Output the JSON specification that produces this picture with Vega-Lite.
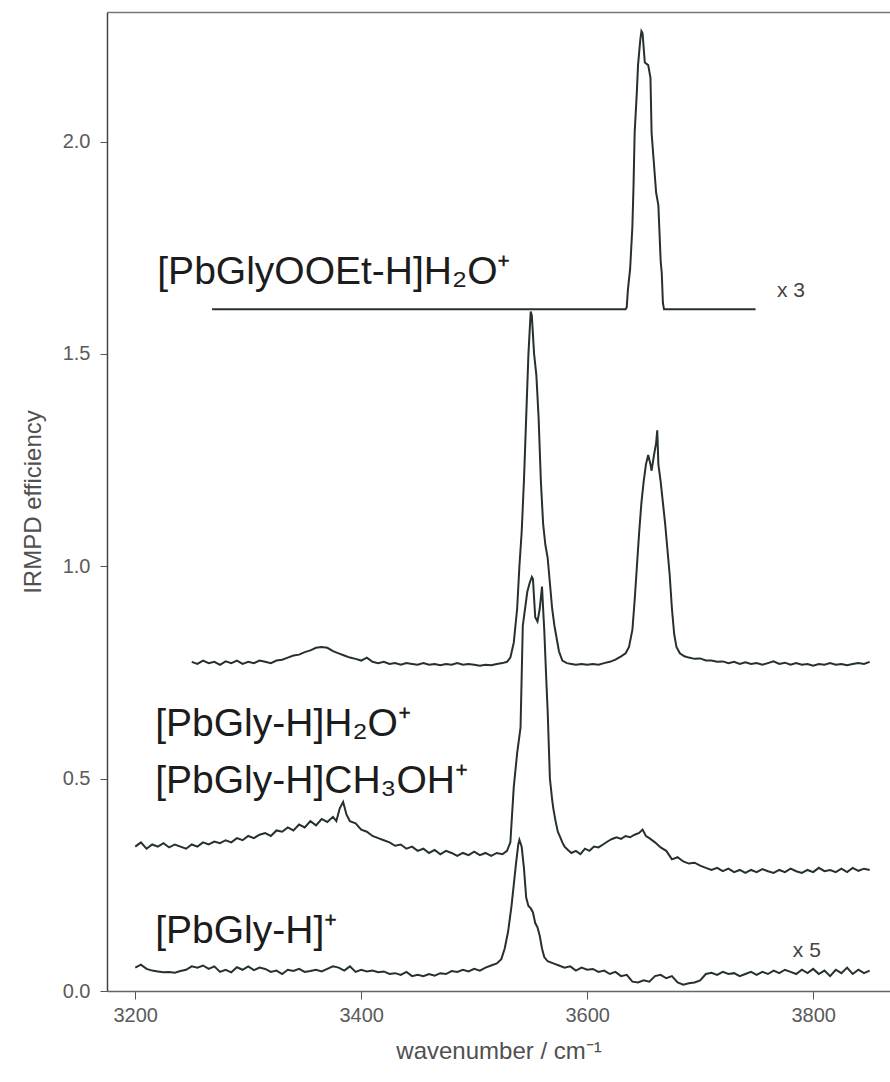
{
  "$schema": "https://vega.github.io/schema/vega-lite/v6.json",
  "width": 783,
  "height": 979,
  "autosize": "none",
  "padding": {"left": 107, "top": 12, "right": 0, "bottom": 91},
  "background": "white",
  "config": {"view": {"stroke": null}, "font": "Liberation Sans"},
  "datasets": {
    "spectra": [
      {"series":"PbGly-H+","wavenumber":3200,"efficiency":0.055},{"series":"PbGly-H+","wavenumber":3205,"efficiency":0.062},{"series":"PbGly-H+","wavenumber":3210,"efficiency":0.052},{"series":"PbGly-H+","wavenumber":3215,"efficiency":0.048},{"series":"PbGly-H+","wavenumber":3220,"efficiency":0.046},{"series":"PbGly-H+","wavenumber":3225,"efficiency":0.044},{"series":"PbGly-H+","wavenumber":3230,"efficiency":0.045},{"series":"PbGly-H+","wavenumber":3235,"efficiency":0.043},{"series":"PbGly-H+","wavenumber":3240,"efficiency":0.047},{"series":"PbGly-H+","wavenumber":3245,"efficiency":0.05},{"series":"PbGly-H+","wavenumber":3250,"efficiency":0.058},{"series":"PbGly-H+","wavenumber":3255,"efficiency":0.055},{"series":"PbGly-H+","wavenumber":3260,"efficiency":0.06},{"series":"PbGly-H+","wavenumber":3265,"efficiency":0.052},{"series":"PbGly-H+","wavenumber":3270,"efficiency":0.058},{"series":"PbGly-H+","wavenumber":3275,"efficiency":0.045},{"series":"PbGly-H+","wavenumber":3280,"efficiency":0.05},{"series":"PbGly-H+","wavenumber":3285,"efficiency":0.044},{"series":"PbGly-H+","wavenumber":3290,"efficiency":0.056},{"series":"PbGly-H+","wavenumber":3295,"efficiency":0.05},{"series":"PbGly-H+","wavenumber":3300,"efficiency":0.058},{"series":"PbGly-H+","wavenumber":3305,"efficiency":0.049},{"series":"PbGly-H+","wavenumber":3310,"efficiency":0.055},{"series":"PbGly-H+","wavenumber":3315,"efficiency":0.052},{"series":"PbGly-H+","wavenumber":3320,"efficiency":0.045},{"series":"PbGly-H+","wavenumber":3325,"efficiency":0.048},{"series":"PbGly-H+","wavenumber":3330,"efficiency":0.04},{"series":"PbGly-H+","wavenumber":3335,"efficiency":0.05},{"series":"PbGly-H+","wavenumber":3340,"efficiency":0.047},{"series":"PbGly-H+","wavenumber":3345,"efficiency":0.052},{"series":"PbGly-H+","wavenumber":3350,"efficiency":0.045},{"series":"PbGly-H+","wavenumber":3355,"efficiency":0.047},{"series":"PbGly-H+","wavenumber":3360,"efficiency":0.05},{"series":"PbGly-H+","wavenumber":3365,"efficiency":0.046},{"series":"PbGly-H+","wavenumber":3370,"efficiency":0.052},{"series":"PbGly-H+","wavenumber":3375,"efficiency":0.058},{"series":"PbGly-H+","wavenumber":3380,"efficiency":0.055},{"series":"PbGly-H+","wavenumber":3385,"efficiency":0.048},{"series":"PbGly-H+","wavenumber":3390,"efficiency":0.058},{"series":"PbGly-H+","wavenumber":3395,"efficiency":0.045},{"series":"PbGly-H+","wavenumber":3400,"efficiency":0.05},{"series":"PbGly-H+","wavenumber":3405,"efficiency":0.046},{"series":"PbGly-H+","wavenumber":3410,"efficiency":0.048},{"series":"PbGly-H+","wavenumber":3415,"efficiency":0.044},{"series":"PbGly-H+","wavenumber":3420,"efficiency":0.046},{"series":"PbGly-H+","wavenumber":3425,"efficiency":0.04},{"series":"PbGly-H+","wavenumber":3430,"efficiency":0.042},{"series":"PbGly-H+","wavenumber":3435,"efficiency":0.038},{"series":"PbGly-H+","wavenumber":3440,"efficiency":0.045},{"series":"PbGly-H+","wavenumber":3445,"efficiency":0.035},{"series":"PbGly-H+","wavenumber":3450,"efficiency":0.038},{"series":"PbGly-H+","wavenumber":3455,"efficiency":0.035},{"series":"PbGly-H+","wavenumber":3460,"efficiency":0.04},{"series":"PbGly-H+","wavenumber":3465,"efficiency":0.036},{"series":"PbGly-H+","wavenumber":3470,"efficiency":0.042},{"series":"PbGly-H+","wavenumber":3475,"efficiency":0.04},{"series":"PbGly-H+","wavenumber":3480,"efficiency":0.047},{"series":"PbGly-H+","wavenumber":3485,"efficiency":0.045},{"series":"PbGly-H+","wavenumber":3490,"efficiency":0.05},{"series":"PbGly-H+","wavenumber":3495,"efficiency":0.046},{"series":"PbGly-H+","wavenumber":3500,"efficiency":0.052},{"series":"PbGly-H+","wavenumber":3505,"efficiency":0.048},{"series":"PbGly-H+","wavenumber":3510,"efficiency":0.055},{"series":"PbGly-H+","wavenumber":3515,"efficiency":0.06},{"series":"PbGly-H+","wavenumber":3520,"efficiency":0.065},{"series":"PbGly-H+","wavenumber":3524,"efficiency":0.075},{"series":"PbGly-H+","wavenumber":3527,"efficiency":0.1},{"series":"PbGly-H+","wavenumber":3530,"efficiency":0.14},{"series":"PbGly-H+","wavenumber":3533,"efficiency":0.2},{"series":"PbGly-H+","wavenumber":3535,"efficiency":0.25},{"series":"PbGly-H+","wavenumber":3537,"efficiency":0.3},{"series":"PbGly-H+","wavenumber":3539,"efficiency":0.345},{"series":"PbGly-H+","wavenumber":3540,"efficiency":0.356},{"series":"PbGly-H+","wavenumber":3542,"efficiency":0.34},{"series":"PbGly-H+","wavenumber":3544,"efficiency":0.29},{"series":"PbGly-H+","wavenumber":3546,"efficiency":0.22},{"series":"PbGly-H+","wavenumber":3548,"efficiency":0.2},{"series":"PbGly-H+","wavenumber":3550,"efficiency":0.195},{"series":"PbGly-H+","wavenumber":3552,"efficiency":0.185},{"series":"PbGly-H+","wavenumber":3554,"efficiency":0.16},{"series":"PbGly-H+","wavenumber":3556,"efficiency":0.15},{"series":"PbGly-H+","wavenumber":3558,"efficiency":0.13},{"series":"PbGly-H+","wavenumber":3560,"efficiency":0.1},{"series":"PbGly-H+","wavenumber":3562,"efficiency":0.08},{"series":"PbGly-H+","wavenumber":3565,"efficiency":0.07},{"series":"PbGly-H+","wavenumber":3570,"efficiency":0.065},{"series":"PbGly-H+","wavenumber":3575,"efficiency":0.06},{"series":"PbGly-H+","wavenumber":3580,"efficiency":0.055},{"series":"PbGly-H+","wavenumber":3585,"efficiency":0.058},{"series":"PbGly-H+","wavenumber":3590,"efficiency":0.048},{"series":"PbGly-H+","wavenumber":3595,"efficiency":0.055},{"series":"PbGly-H+","wavenumber":3600,"efficiency":0.05},{"series":"PbGly-H+","wavenumber":3605,"efficiency":0.052},{"series":"PbGly-H+","wavenumber":3610,"efficiency":0.045},{"series":"PbGly-H+","wavenumber":3615,"efficiency":0.048},{"series":"PbGly-H+","wavenumber":3620,"efficiency":0.04},{"series":"PbGly-H+","wavenumber":3625,"efficiency":0.045},{"series":"PbGly-H+","wavenumber":3630,"efficiency":0.035},{"series":"PbGly-H+","wavenumber":3635,"efficiency":0.038},{"series":"PbGly-H+","wavenumber":3640,"efficiency":0.022},{"series":"PbGly-H+","wavenumber":3645,"efficiency":0.02},{"series":"PbGly-H+","wavenumber":3650,"efficiency":0.025},{"series":"PbGly-H+","wavenumber":3655,"efficiency":0.022},{"series":"PbGly-H+","wavenumber":3660,"efficiency":0.035},{"series":"PbGly-H+","wavenumber":3665,"efficiency":0.038},{"series":"PbGly-H+","wavenumber":3670,"efficiency":0.03},{"series":"PbGly-H+","wavenumber":3675,"efficiency":0.035},{"series":"PbGly-H+","wavenumber":3680,"efficiency":0.02},{"series":"PbGly-H+","wavenumber":3685,"efficiency":0.015},{"series":"PbGly-H+","wavenumber":3690,"efficiency":0.018},{"series":"PbGly-H+","wavenumber":3695,"efficiency":0.02},{"series":"PbGly-H+","wavenumber":3700,"efficiency":0.025},{"series":"PbGly-H+","wavenumber":3705,"efficiency":0.04},{"series":"PbGly-H+","wavenumber":3710,"efficiency":0.043},{"series":"PbGly-H+","wavenumber":3715,"efficiency":0.038},{"series":"PbGly-H+","wavenumber":3720,"efficiency":0.045},{"series":"PbGly-H+","wavenumber":3725,"efficiency":0.04},{"series":"PbGly-H+","wavenumber":3730,"efficiency":0.042},{"series":"PbGly-H+","wavenumber":3735,"efficiency":0.035},{"series":"PbGly-H+","wavenumber":3740,"efficiency":0.04},{"series":"PbGly-H+","wavenumber":3745,"efficiency":0.045},{"series":"PbGly-H+","wavenumber":3750,"efficiency":0.038},{"series":"PbGly-H+","wavenumber":3755,"efficiency":0.045},{"series":"PbGly-H+","wavenumber":3760,"efficiency":0.04},{"series":"PbGly-H+","wavenumber":3765,"efficiency":0.048},{"series":"PbGly-H+","wavenumber":3770,"efficiency":0.042},{"series":"PbGly-H+","wavenumber":3775,"efficiency":0.05},{"series":"PbGly-H+","wavenumber":3780,"efficiency":0.045},{"series":"PbGly-H+","wavenumber":3785,"efficiency":0.04},{"series":"PbGly-H+","wavenumber":3790,"efficiency":0.05},{"series":"PbGly-H+","wavenumber":3795,"efficiency":0.042},{"series":"PbGly-H+","wavenumber":3800,"efficiency":0.052},{"series":"PbGly-H+","wavenumber":3805,"efficiency":0.04},{"series":"PbGly-H+","wavenumber":3810,"efficiency":0.048},{"series":"PbGly-H+","wavenumber":3815,"efficiency":0.035},{"series":"PbGly-H+","wavenumber":3820,"efficiency":0.05},{"series":"PbGly-H+","wavenumber":3825,"efficiency":0.042},{"series":"PbGly-H+","wavenumber":3830,"efficiency":0.055},{"series":"PbGly-H+","wavenumber":3835,"efficiency":0.04},{"series":"PbGly-H+","wavenumber":3840,"efficiency":0.05},{"series":"PbGly-H+","wavenumber":3845,"efficiency":0.042},{"series":"PbGly-H+","wavenumber":3850,"efficiency":0.048},

      {"series":"CH3OH","wavenumber":3200,"efficiency":0.34},{"series":"CH3OH","wavenumber":3205,"efficiency":0.35},{"series":"CH3OH","wavenumber":3210,"efficiency":0.335},{"series":"CH3OH","wavenumber":3215,"efficiency":0.345},{"series":"CH3OH","wavenumber":3220,"efficiency":0.34},{"series":"CH3OH","wavenumber":3225,"efficiency":0.348},{"series":"CH3OH","wavenumber":3230,"efficiency":0.338},{"series":"CH3OH","wavenumber":3235,"efficiency":0.345},{"series":"CH3OH","wavenumber":3240,"efficiency":0.34},{"series":"CH3OH","wavenumber":3245,"efficiency":0.335},{"series":"CH3OH","wavenumber":3250,"efficiency":0.345},{"series":"CH3OH","wavenumber":3255,"efficiency":0.34},{"series":"CH3OH","wavenumber":3260,"efficiency":0.35},{"series":"CH3OH","wavenumber":3265,"efficiency":0.345},{"series":"CH3OH","wavenumber":3270,"efficiency":0.352},{"series":"CH3OH","wavenumber":3275,"efficiency":0.348},{"series":"CH3OH","wavenumber":3280,"efficiency":0.355},{"series":"CH3OH","wavenumber":3285,"efficiency":0.35},{"series":"CH3OH","wavenumber":3290,"efficiency":0.36},{"series":"CH3OH","wavenumber":3295,"efficiency":0.355},{"series":"CH3OH","wavenumber":3300,"efficiency":0.365},{"series":"CH3OH","wavenumber":3305,"efficiency":0.36},{"series":"CH3OH","wavenumber":3310,"efficiency":0.368},{"series":"CH3OH","wavenumber":3315,"efficiency":0.372},{"series":"CH3OH","wavenumber":3320,"efficiency":0.365},{"series":"CH3OH","wavenumber":3325,"efficiency":0.378},{"series":"CH3OH","wavenumber":3330,"efficiency":0.375},{"series":"CH3OH","wavenumber":3335,"efficiency":0.385},{"series":"CH3OH","wavenumber":3340,"efficiency":0.378},{"series":"CH3OH","wavenumber":3345,"efficiency":0.392},{"series":"CH3OH","wavenumber":3350,"efficiency":0.385},{"series":"CH3OH","wavenumber":3355,"efficiency":0.4},{"series":"CH3OH","wavenumber":3360,"efficiency":0.39},{"series":"CH3OH","wavenumber":3365,"efficiency":0.405},{"series":"CH3OH","wavenumber":3370,"efficiency":0.398},{"series":"CH3OH","wavenumber":3375,"efficiency":0.41},{"series":"CH3OH","wavenumber":3378,"efficiency":0.4},{"series":"CH3OH","wavenumber":3381,"efficiency":0.43},{"series":"CH3OH","wavenumber":3384,"efficiency":0.445},{"series":"CH3OH","wavenumber":3387,"efficiency":0.415},{"series":"CH3OH","wavenumber":3390,"efficiency":0.4},{"series":"CH3OH","wavenumber":3395,"efficiency":0.395},{"series":"CH3OH","wavenumber":3400,"efficiency":0.38},{"series":"CH3OH","wavenumber":3405,"efficiency":0.375},{"series":"CH3OH","wavenumber":3410,"efficiency":0.365},{"series":"CH3OH","wavenumber":3415,"efficiency":0.36},{"series":"CH3OH","wavenumber":3420,"efficiency":0.355},{"series":"CH3OH","wavenumber":3425,"efficiency":0.35},{"series":"CH3OH","wavenumber":3430,"efficiency":0.342},{"series":"CH3OH","wavenumber":3435,"efficiency":0.345},{"series":"CH3OH","wavenumber":3440,"efficiency":0.335},{"series":"CH3OH","wavenumber":3445,"efficiency":0.34},{"series":"CH3OH","wavenumber":3450,"efficiency":0.33},{"series":"CH3OH","wavenumber":3455,"efficiency":0.335},{"series":"CH3OH","wavenumber":3460,"efficiency":0.325},{"series":"CH3OH","wavenumber":3465,"efficiency":0.332},{"series":"CH3OH","wavenumber":3470,"efficiency":0.322},{"series":"CH3OH","wavenumber":3475,"efficiency":0.33},{"series":"CH3OH","wavenumber":3480,"efficiency":0.325},{"series":"CH3OH","wavenumber":3485,"efficiency":0.318},{"series":"CH3OH","wavenumber":3490,"efficiency":0.325},{"series":"CH3OH","wavenumber":3495,"efficiency":0.32},{"series":"CH3OH","wavenumber":3500,"efficiency":0.328},{"series":"CH3OH","wavenumber":3505,"efficiency":0.32},{"series":"CH3OH","wavenumber":3510,"efficiency":0.325},{"series":"CH3OH","wavenumber":3515,"efficiency":0.318},{"series":"CH3OH","wavenumber":3520,"efficiency":0.325},{"series":"CH3OH","wavenumber":3525,"efficiency":0.322},{"series":"CH3OH","wavenumber":3529,"efficiency":0.33},{"series":"CH3OH","wavenumber":3532,"efficiency":0.35},{"series":"CH3OH","wavenumber":3535,"efficiency":0.48},{"series":"CH3OH","wavenumber":3538,"efficiency":0.56},{"series":"CH3OH","wavenumber":3541,"efficiency":0.62},{"series":"CH3OH","wavenumber":3543,"efficiency":0.86},{"series":"CH3OH","wavenumber":3545,"efficiency":0.9},{"series":"CH3OH","wavenumber":3547,"efficiency":0.94},{"series":"CH3OH","wavenumber":3549,"efficiency":0.96},{"series":"CH3OH","wavenumber":3551,"efficiency":0.975},{"series":"CH3OH","wavenumber":3552,"efficiency":0.97},{"series":"CH3OH","wavenumber":3554,"efficiency":0.88},{"series":"CH3OH","wavenumber":3556,"efficiency":0.87},{"series":"CH3OH","wavenumber":3558,"efficiency":0.9},{"series":"CH3OH","wavenumber":3560,"efficiency":0.952},{"series":"CH3OH","wavenumber":3561,"efficiency":0.9},{"series":"CH3OH","wavenumber":3562,"efficiency":0.85},{"series":"CH3OH","wavenumber":3564,"efficiency":0.72},{"series":"CH3OH","wavenumber":3565,"efficiency":0.66},{"series":"CH3OH","wavenumber":3567,"efficiency":0.5},{"series":"CH3OH","wavenumber":3569,"efficiency":0.45},{"series":"CH3OH","wavenumber":3570,"efficiency":0.43},{"series":"CH3OH","wavenumber":3572,"efficiency":0.4},{"series":"CH3OH","wavenumber":3574,"efficiency":0.375},{"series":"CH3OH","wavenumber":3576,"efficiency":0.363},{"series":"CH3OH","wavenumber":3578,"efficiency":0.35},{"series":"CH3OH","wavenumber":3580,"efficiency":0.34},{"series":"CH3OH","wavenumber":3583,"efficiency":0.332},{"series":"CH3OH","wavenumber":3586,"efficiency":0.325},{"series":"CH3OH","wavenumber":3590,"efficiency":0.33},{"series":"CH3OH","wavenumber":3594,"efficiency":0.322},{"series":"CH3OH","wavenumber":3598,"efficiency":0.335},{"series":"CH3OH","wavenumber":3602,"efficiency":0.33},{"series":"CH3OH","wavenumber":3606,"efficiency":0.34},{"series":"CH3OH","wavenumber":3610,"efficiency":0.338},{"series":"CH3OH","wavenumber":3614,"efficiency":0.345},{"series":"CH3OH","wavenumber":3618,"efficiency":0.352},{"series":"CH3OH","wavenumber":3622,"efficiency":0.358},{"series":"CH3OH","wavenumber":3626,"efficiency":0.362},{"series":"CH3OH","wavenumber":3630,"efficiency":0.358},{"series":"CH3OH","wavenumber":3634,"efficiency":0.365},{"series":"CH3OH","wavenumber":3638,"efficiency":0.362},{"series":"CH3OH","wavenumber":3642,"efficiency":0.368},{"series":"CH3OH","wavenumber":3646,"efficiency":0.372},{"series":"CH3OH","wavenumber":3649,"efficiency":0.38},{"series":"CH3OH","wavenumber":3652,"efficiency":0.365},{"series":"CH3OH","wavenumber":3655,"efficiency":0.36},{"series":"CH3OH","wavenumber":3660,"efficiency":0.35},{"series":"CH3OH","wavenumber":3665,"efficiency":0.338},{"series":"CH3OH","wavenumber":3670,"efficiency":0.33},{"series":"CH3OH","wavenumber":3675,"efficiency":0.31},{"series":"CH3OH","wavenumber":3680,"efficiency":0.315},{"series":"CH3OH","wavenumber":3685,"efficiency":0.305},{"series":"CH3OH","wavenumber":3690,"efficiency":0.3},{"series":"CH3OH","wavenumber":3695,"efficiency":0.302},{"series":"CH3OH","wavenumber":3700,"efficiency":0.295},{"series":"CH3OH","wavenumber":3705,"efficiency":0.29},{"series":"CH3OH","wavenumber":3710,"efficiency":0.285},{"series":"CH3OH","wavenumber":3715,"efficiency":0.29},{"series":"CH3OH","wavenumber":3720,"efficiency":0.282},{"series":"CH3OH","wavenumber":3725,"efficiency":0.288},{"series":"CH3OH","wavenumber":3730,"efficiency":0.28},{"series":"CH3OH","wavenumber":3735,"efficiency":0.285},{"series":"CH3OH","wavenumber":3740,"efficiency":0.278},{"series":"CH3OH","wavenumber":3745,"efficiency":0.285},{"series":"CH3OH","wavenumber":3750,"efficiency":0.28},{"series":"CH3OH","wavenumber":3755,"efficiency":0.287},{"series":"CH3OH","wavenumber":3760,"efficiency":0.282},{"series":"CH3OH","wavenumber":3765,"efficiency":0.278},{"series":"CH3OH","wavenumber":3770,"efficiency":0.285},{"series":"CH3OH","wavenumber":3775,"efficiency":0.28},{"series":"CH3OH","wavenumber":3780,"efficiency":0.288},{"series":"CH3OH","wavenumber":3785,"efficiency":0.282},{"series":"CH3OH","wavenumber":3790,"efficiency":0.278},{"series":"CH3OH","wavenumber":3795,"efficiency":0.285},{"series":"CH3OH","wavenumber":3800,"efficiency":0.28},{"series":"CH3OH","wavenumber":3805,"efficiency":0.29},{"series":"CH3OH","wavenumber":3810,"efficiency":0.282},{"series":"CH3OH","wavenumber":3815,"efficiency":0.285},{"series":"CH3OH","wavenumber":3820,"efficiency":0.28},{"series":"CH3OH","wavenumber":3825,"efficiency":0.288},{"series":"CH3OH","wavenumber":3830,"efficiency":0.28},{"series":"CH3OH","wavenumber":3835,"efficiency":0.29},{"series":"CH3OH","wavenumber":3840,"efficiency":0.283},{"series":"CH3OH","wavenumber":3845,"efficiency":0.288},{"series":"CH3OH","wavenumber":3850,"efficiency":0.285},

      {"series":"H2O","wavenumber":3250,"efficiency":0.775},{"series":"H2O","wavenumber":3255,"efficiency":0.77},{"series":"H2O","wavenumber":3260,"efficiency":0.778},{"series":"H2O","wavenumber":3265,"efficiency":0.772},{"series":"H2O","wavenumber":3270,"efficiency":0.775},{"series":"H2O","wavenumber":3275,"efficiency":0.768},{"series":"H2O","wavenumber":3280,"efficiency":0.776},{"series":"H2O","wavenumber":3285,"efficiency":0.772},{"series":"H2O","wavenumber":3290,"efficiency":0.778},{"series":"H2O","wavenumber":3295,"efficiency":0.77},{"series":"H2O","wavenumber":3300,"efficiency":0.775},{"series":"H2O","wavenumber":3305,"efficiency":0.772},{"series":"H2O","wavenumber":3310,"efficiency":0.778},{"series":"H2O","wavenumber":3315,"efficiency":0.775},{"series":"H2O","wavenumber":3320,"efficiency":0.772},{"series":"H2O","wavenumber":3325,"efficiency":0.778},{"series":"H2O","wavenumber":3330,"efficiency":0.78},{"series":"H2O","wavenumber":3335,"efficiency":0.785},{"series":"H2O","wavenumber":3340,"efficiency":0.79},{"series":"H2O","wavenumber":3345,"efficiency":0.792},{"series":"H2O","wavenumber":3350,"efficiency":0.798},{"series":"H2O","wavenumber":3355,"efficiency":0.802},{"series":"H2O","wavenumber":3360,"efficiency":0.808},{"series":"H2O","wavenumber":3365,"efficiency":0.81},{"series":"H2O","wavenumber":3370,"efficiency":0.808},{"series":"H2O","wavenumber":3375,"efficiency":0.8},{"series":"H2O","wavenumber":3380,"efficiency":0.795},{"series":"H2O","wavenumber":3385,"efficiency":0.79},{"series":"H2O","wavenumber":3390,"efficiency":0.785},{"series":"H2O","wavenumber":3395,"efficiency":0.782},{"series":"H2O","wavenumber":3400,"efficiency":0.778},{"series":"H2O","wavenumber":3405,"efficiency":0.785},{"series":"H2O","wavenumber":3410,"efficiency":0.775},{"series":"H2O","wavenumber":3415,"efficiency":0.772},{"series":"H2O","wavenumber":3420,"efficiency":0.775},{"series":"H2O","wavenumber":3425,"efficiency":0.77},{"series":"H2O","wavenumber":3430,"efficiency":0.772},{"series":"H2O","wavenumber":3435,"efficiency":0.768},{"series":"H2O","wavenumber":3440,"efficiency":0.772},{"series":"H2O","wavenumber":3445,"efficiency":0.77},{"series":"H2O","wavenumber":3450,"efficiency":0.768},{"series":"H2O","wavenumber":3455,"efficiency":0.772},{"series":"H2O","wavenumber":3460,"efficiency":0.768},{"series":"H2O","wavenumber":3465,"efficiency":0.77},{"series":"H2O","wavenumber":3470,"efficiency":0.767},{"series":"H2O","wavenumber":3475,"efficiency":0.77},{"series":"H2O","wavenumber":3480,"efficiency":0.768},{"series":"H2O","wavenumber":3485,"efficiency":0.772},{"series":"H2O","wavenumber":3490,"efficiency":0.768},{"series":"H2O","wavenumber":3495,"efficiency":0.77},{"series":"H2O","wavenumber":3500,"efficiency":0.768},{"series":"H2O","wavenumber":3505,"efficiency":0.766},{"series":"H2O","wavenumber":3510,"efficiency":0.768},{"series":"H2O","wavenumber":3515,"efficiency":0.767},{"series":"H2O","wavenumber":3520,"efficiency":0.77},{"series":"H2O","wavenumber":3525,"efficiency":0.772},{"series":"H2O","wavenumber":3529,"efficiency":0.775},{"series":"H2O","wavenumber":3532,"efficiency":0.785},{"series":"H2O","wavenumber":3535,"efficiency":0.82},{"series":"H2O","wavenumber":3538,"efficiency":0.9},{"series":"H2O","wavenumber":3540,"efficiency":1.0},{"series":"H2O","wavenumber":3542,"efficiency":1.08},{"series":"H2O","wavenumber":3544,"efficiency":1.2},{"series":"H2O","wavenumber":3546,"efficiency":1.35},{"series":"H2O","wavenumber":3548,"efficiency":1.5},{"series":"H2O","wavenumber":3550,"efficiency":1.6},{"series":"H2O","wavenumber":3551,"efficiency":1.59},{"series":"H2O","wavenumber":3553,"efficiency":1.5},{"series":"H2O","wavenumber":3555,"efficiency":1.45},{"series":"H2O","wavenumber":3557,"efficiency":1.35},{"series":"H2O","wavenumber":3559,"efficiency":1.2},{"series":"H2O","wavenumber":3561,"efficiency":1.1},{"series":"H2O","wavenumber":3563,"efficiency":1.05},{"series":"H2O","wavenumber":3565,"efficiency":1.02},{"series":"H2O","wavenumber":3567,"efficiency":0.96},{"series":"H2O","wavenumber":3569,"efficiency":0.9},{"series":"H2O","wavenumber":3571,"efficiency":0.86},{"series":"H2O","wavenumber":3573,"efficiency":0.83},{"series":"H2O","wavenumber":3575,"efficiency":0.8},{"series":"H2O","wavenumber":3578,"efficiency":0.778},{"series":"H2O","wavenumber":3582,"efficiency":0.772},{"series":"H2O","wavenumber":3586,"efficiency":0.77},{"series":"H2O","wavenumber":3590,"efficiency":0.768},{"series":"H2O","wavenumber":3595,"efficiency":0.77},{"series":"H2O","wavenumber":3600,"efficiency":0.768},{"series":"H2O","wavenumber":3605,"efficiency":0.77},{"series":"H2O","wavenumber":3610,"efficiency":0.768},{"series":"H2O","wavenumber":3615,"efficiency":0.772},{"series":"H2O","wavenumber":3620,"efficiency":0.775},{"series":"H2O","wavenumber":3625,"efficiency":0.78},{"series":"H2O","wavenumber":3630,"efficiency":0.788},{"series":"H2O","wavenumber":3634,"efficiency":0.795},{"series":"H2O","wavenumber":3637,"efficiency":0.81},{"series":"H2O","wavenumber":3640,"efficiency":0.85},{"series":"H2O","wavenumber":3642,"efficiency":0.92},{"series":"H2O","wavenumber":3644,"efficiency":1.0},{"series":"H2O","wavenumber":3646,"efficiency":1.08},{"series":"H2O","wavenumber":3648,"efficiency":1.15},{"series":"H2O","wavenumber":3650,"efficiency":1.2},{"series":"H2O","wavenumber":3652,"efficiency":1.24},{"series":"H2O","wavenumber":3654,"efficiency":1.262},{"series":"H2O","wavenumber":3656,"efficiency":1.24},{"series":"H2O","wavenumber":3657,"efficiency":1.225},{"series":"H2O","wavenumber":3659,"efficiency":1.26},{"series":"H2O","wavenumber":3661,"efficiency":1.29},{"series":"H2O","wavenumber":3662,"efficiency":1.32},{"series":"H2O","wavenumber":3663,"efficiency":1.24},{"series":"H2O","wavenumber":3665,"efficiency":1.2},{"series":"H2O","wavenumber":3667,"efficiency":1.15},{"series":"H2O","wavenumber":3669,"efficiency":1.1},{"series":"H2O","wavenumber":3671,"efficiency":1.04},{"series":"H2O","wavenumber":3673,"efficiency":0.98},{"series":"H2O","wavenumber":3675,"efficiency":0.9},{"series":"H2O","wavenumber":3677,"efficiency":0.84},{"series":"H2O","wavenumber":3679,"efficiency":0.81},{"series":"H2O","wavenumber":3682,"efficiency":0.795},{"series":"H2O","wavenumber":3686,"efficiency":0.788},{"series":"H2O","wavenumber":3690,"efficiency":0.785},{"series":"H2O","wavenumber":3695,"efficiency":0.782},{"series":"H2O","wavenumber":3700,"efficiency":0.783},{"series":"H2O","wavenumber":3705,"efficiency":0.778},{"series":"H2O","wavenumber":3710,"efficiency":0.778},{"series":"H2O","wavenumber":3715,"efficiency":0.775},{"series":"H2O","wavenumber":3720,"efficiency":0.776},{"series":"H2O","wavenumber":3725,"efficiency":0.772},{"series":"H2O","wavenumber":3730,"efficiency":0.775},{"series":"H2O","wavenumber":3735,"efficiency":0.77},{"series":"H2O","wavenumber":3740,"efficiency":0.774},{"series":"H2O","wavenumber":3745,"efficiency":0.77},{"series":"H2O","wavenumber":3750,"efficiency":0.772},{"series":"H2O","wavenumber":3755,"efficiency":0.768},{"series":"H2O","wavenumber":3760,"efficiency":0.772},{"series":"H2O","wavenumber":3765,"efficiency":0.776},{"series":"H2O","wavenumber":3770,"efficiency":0.77},{"series":"H2O","wavenumber":3775,"efficiency":0.773},{"series":"H2O","wavenumber":3780,"efficiency":0.768},{"series":"H2O","wavenumber":3785,"efficiency":0.772},{"series":"H2O","wavenumber":3790,"efficiency":0.768},{"series":"H2O","wavenumber":3795,"efficiency":0.77},{"series":"H2O","wavenumber":3800,"efficiency":0.766},{"series":"H2O","wavenumber":3805,"efficiency":0.77},{"series":"H2O","wavenumber":3810,"efficiency":0.768},{"series":"H2O","wavenumber":3815,"efficiency":0.772},{"series":"H2O","wavenumber":3820,"efficiency":0.768},{"series":"H2O","wavenumber":3825,"efficiency":0.77},{"series":"H2O","wavenumber":3830,"efficiency":0.767},{"series":"H2O","wavenumber":3835,"efficiency":0.77},{"series":"H2O","wavenumber":3840,"efficiency":0.772},{"series":"H2O","wavenumber":3845,"efficiency":0.77},{"series":"H2O","wavenumber":3850,"efficiency":0.775},

      {"series":"OOEt","wavenumber":3268,"efficiency":1.605},{"series":"OOEt","wavenumber":3400,"efficiency":1.605},{"series":"OOEt","wavenumber":3500,"efficiency":1.605},{"series":"OOEt","wavenumber":3600,"efficiency":1.605},{"series":"OOEt","wavenumber":3634,"efficiency":1.605},{"series":"OOEt","wavenumber":3635,"efficiency":1.61},{"series":"OOEt","wavenumber":3636,"efficiency":1.65},{"series":"OOEt","wavenumber":3638,"efficiency":1.7},{"series":"OOEt","wavenumber":3640,"efficiency":1.8},{"series":"OOEt","wavenumber":3641,"efficiency":1.895},{"series":"OOEt","wavenumber":3642,"efficiency":2.02},{"series":"OOEt","wavenumber":3644,"efficiency":2.12},{"series":"OOEt","wavenumber":3645,"efficiency":2.18},{"series":"OOEt","wavenumber":3647,"efficiency":2.24},{"series":"OOEt","wavenumber":3648,"efficiency":2.26},{"series":"OOEt","wavenumber":3649,"efficiency":2.255},{"series":"OOEt","wavenumber":3651,"efficiency":2.186},{"series":"OOEt","wavenumber":3654,"efficiency":2.18},{"series":"OOEt","wavenumber":3656,"efficiency":2.15},{"series":"OOEt","wavenumber":3657,"efficiency":2.02},{"series":"OOEt","wavenumber":3659,"efficiency":1.95},{"series":"OOEt","wavenumber":3661,"efficiency":1.88},{"series":"OOEt","wavenumber":3663,"efficiency":1.85},{"series":"OOEt","wavenumber":3665,"efficiency":1.72},{"series":"OOEt","wavenumber":3666,"efficiency":1.69},{"series":"OOEt","wavenumber":3667,"efficiency":1.62},{"series":"OOEt","wavenumber":3668,"efficiency":1.605},{"series":"OOEt","wavenumber":3700,"efficiency":1.605},{"series":"OOEt","wavenumber":3749,"efficiency":1.605}
    ],
    "labels": [
      {"label":"[PbGlyOOEt-H]H₂O⁺","wavenumber":3219.5,"efficiency":1.665},
      {"label":"[PbGly-H]H₂O⁺","wavenumber":3217.7,"efficiency":0.6},
      {"label":"[PbGly-H]CH₃OH⁺","wavenumber":3217.7,"efficiency":0.466},
      {"label":"[PbGly-H]⁺","wavenumber":3217.7,"efficiency":0.113}
    ],
    "factors": [
      {"label":"x 3","wavenumber":3768,"efficiency":1.635},
      {"label":"x 5","wavenumber":3782,"efficiency":0.08}
    ]
  },
  "layer": [
    {
      "data": {"name": "spectra"},
      "mark": {"type": "line", "stroke": "#263030", "strokeWidth": 2, "interpolate": "linear"},
      "encoding": {
        "x": {"field": "wavenumber", "type": "quantitative",
          "scale": {"domain": [3175, 3868], "nice": false, "zero": false},
          "axis": {"values": [3200, 3400, 3600, 3800], "format": "d", "grid": false,
            "labelFontSize": 20, "labelColor": "#5a5a5a", "labelPadding": 6,
            "tickSize": 8, "tickColor": "#555", "domainColor": "#666", "domainWidth": 1.5,
            "title": "wavenumber / cm⁻¹", "titleFontSize": 24, "titleFontWeight": "normal",
            "titleColor": "#505050", "titlePadding": 14}},
        "y": {"field": "efficiency", "type": "quantitative",
          "scale": {"domain": [0, 2.305], "nice": false, "zero": false},
          "axis": {"values": [0, 0.5, 1, 1.5, 2], "format": ".1f", "grid": false,
            "labelFontSize": 20, "labelColor": "#5a5a5a", "labelPadding": 10,
            "tickSize": 7, "tickColor": "#555", "domainColor": "#444", "domainWidth": 1.5,
            "title": "IRMPD efficiency", "titleFontSize": 24, "titleFontWeight": "normal",
            "titleColor": "#505050", "titlePadding": 17}},
        "detail": {"field": "series", "type": "nominal"}
      }
    },
    {
      "data": {"name": "labels"},
      "mark": {"type": "text", "align": "left", "baseline": "alphabetic", "fontSize": 39, "font": "Liberation Sans", "color": "#1c1c1c"},
      "encoding": {
        "x": {"field": "wavenumber", "type": "quantitative", "scale": {"domain": [3175, 3868], "nice": false, "zero": false}, "axis": null},
        "y": {"field": "efficiency", "type": "quantitative", "scale": {"domain": [0, 2.305], "nice": false, "zero": false}, "axis": null},
        "text": {"field": "label"}
      }
    },
    {
      "data": {"name": "factors"},
      "mark": {"type": "text", "align": "left", "baseline": "alphabetic", "fontSize": 21, "font": "Liberation Sans", "color": "#444"},
      "encoding": {
        "x": {"field": "wavenumber", "type": "quantitative", "scale": {"domain": [3175, 3868], "nice": false, "zero": false},
          "axis": {"orient": "top", "labels": false, "ticks": false, "title": null, "grid": false, "domain": true, "domainColor": "#777", "domainWidth": 1.5}},
        "y": {"field": "efficiency", "type": "quantitative", "scale": {"domain": [0, 2.305], "nice": false, "zero": false}, "axis": null},
        "text": {"field": "label"}
      }
    }
  ],
  "resolve": {"axis": {"x": "independent", "y": "independent"}}
}
